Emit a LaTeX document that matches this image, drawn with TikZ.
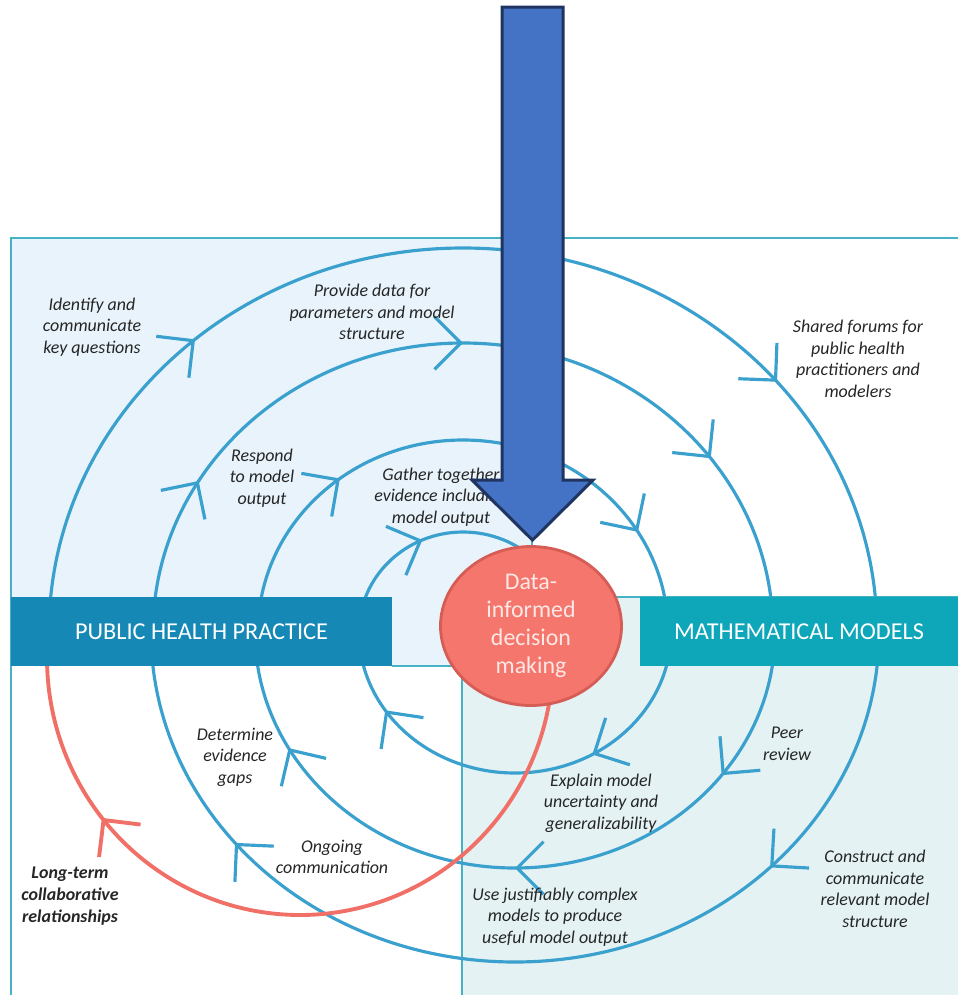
\documentclass[tikz,border=0pt]{standalone}
\usepackage{fontspec}
\setmainfont{Carlito}
\usepackage{tikz}
\usetikzlibrary{arrows.meta,shapes.geometric,decorations.markings}

\definecolor{loopblue}{RGB}{58,160,206}
\definecolor{loopred}{RGB}{240,112,104}
\definecolor{phpblue}{RGB}{22,136,181}
\definecolor{mmteal}{RGB}{14,166,185}
\definecolor{phpback}{RGB}{232,243,251}
\definecolor{mmback}{RGB}{228,242,244}
\definecolor{frameteal}{RGB}{70,178,196}
\definecolor{decfill}{RGB}{244,118,108}
\definecolor{decline}{RGB}{214,92,86}
\definecolor{dectext}{RGB}{253,232,230}
\definecolor{bigblue}{RGB}{68,114,196}
\definecolor{bignavy}{RGB}{31,52,96}
\definecolor{labelgray}{RGB}{38,38,38}

\tikzset{
  looparc/.style={draw=loopblue, line width=0.9pt},
  backarc/.style={draw=loopred, line width=1.1pt},
  flowmark/.style={postaction={decorate,
      decoration={markings, mark=at position #1 with {\arrow{>}}}}},
  notetext/.style={font=\itshape\fontsize{5.1}{6.15}\selectfont,
      text=labelgray, align=center, inner sep=0pt},
  sidebar/.style={text=white, inner sep=0pt, minimum height=6.9mm,
      font=\fontsize{6.9}{8}\selectfont},
  decision/.style={ellipse, draw=decline, line width=0.8pt, fill=decfill,
      text=dectext, align=center, inner sep=0pt,
      minimum width=18.1mm, minimum height=15.9mm,
      font=\fontsize{6.8}{7.9}\selectfont},
  framerule/.style={draw=frameteal, line width=0.35pt}
}

\begin{document}
\begin{tikzpicture}[x=0.1mm, y=-0.1mm, >={Straight Barb[length=7.5pt,width=15pt]}]
  \useasboundingbox (0,0) rectangle (958,995);

  % the two halves of the plane
  \fill[phpback] (11,238) rectangle (532,666);
  \fill[mmback] (462,597) rectangle (958,995);
  \draw[framerule] (958,238) -- (11,238) -- (11,995);
  \draw[framerule] (532,238) -- (532,666) -- (392,666);
  \draw[framerule] (958,597) -- (462,597) -- (462,995);

  % upper half turns, centre (463,632)
  \draw[looparc, flowmark=0.27, flowmark=0.78]
    (463,632) ++(180:414 and 384) arc[start angle=180, end angle=360, x radius=414, y radius=384];
  \draw[looparc, flowmark=0.17, flowmark=0.5, flowmark=0.8]
    (463,632) ++(180:310 and 289) arc[start angle=180, end angle=360, x radius=310, y radius=289];
  \draw[looparc, flowmark=0.29, flowmark=0.83]
    (463,632) ++(180:205 and 192) arc[start angle=180, end angle=360, x radius=205, y radius=192];
  \draw[looparc, flowmark=0.37]
    (463,632) ++(180:104 and 100) arc[start angle=180, end angle=360, x radius=104, y radius=100];

  % lower half turns, centre (515,632)
  \draw[looparc, flowmark=0.245, flowmark=0.787]
    (515,632) ++(0:364 and 330) arc[start angle=0, end angle=180, x radius=364, y radius=330];
  \draw[looparc, flowmark=0.2, flowmark=0.5, flowmark=0.843]
    (515,632) ++(0:260 and 236) arc[start angle=0, end angle=180, x radius=260, y radius=236];
  \draw[looparc, flowmark=0.328, flowmark=0.82]
    (515,632) ++(0:156 and 141) arc[start angle=0, end angle=180, x radius=156, y radius=141];

  % way back out to the start
  \draw[backarc, flowmark=0.77]
    (300,658) ++(-5:253 and 257) arc[start angle=-5, end angle=185, x radius=253, y radius=257];

  \node[notetext] (identify) at (92,327) {Identify and\\communicate\\key questions};
  \node[notetext] (provide) at (372,312) {Provide data for\\parameters and model\\structure};
  \node[notetext] (shared) at (858,359) {Shared forums for\\public health\\practitioners and\\modelers};
  \node[notetext] (respond) at (262,478) {Respond\\to model\\output};
  \node[notetext] (gather) at (441,497) {Gather together\\evidence including\\model output};
  \node[notetext] (determine) at (235,757) {Determine\\evidence\\gaps};
  \node[notetext] (ongoing) at (332,857) {Ongoing\\communication};
  \node[notetext, font=\bfseries\itshape\fontsize{5.1}{6.15}\selectfont] (longterm) at (70,896) {Long-term\\collaborative\\relationships};
  \node[notetext] (peer) at (787,744) {Peer\\review};
  \node[notetext] (explain) at (601,803) {Explain model\\uncertainty and\\generalizability};
  \node[notetext] (usemodels) at (555,917) {Use justifiably complex\\models to produce\\useful model output};
  \node[notetext] (construct) at (875,889) {Construct and\\communicate\\relevant model\\structure};

  \node[sidebar, fill=phpblue, minimum width=38.1mm] (php) at (201.5,631.5) {PUBLIC HEALTH PRACTICE};
  \node[sidebar, fill=mmteal, minimum width=31.8mm] (mm) at (799,631.5) {MATHEMATICAL MODELS};

  \node[decision] (decision) at (531,626) {Data-\\informed\\decision\\making};

  % big arrow coming down onto the decision
  \draw[fill=bigblue, draw=bignavy, line width=0.85pt, line join=miter, shift={(decision.north)}]
    (-29,-538) -- (32,-538) -- (32,-65) -- (62,-65) -- (1.5,-5) -- (-59,-65) -- (-29,-65) -- cycle;
\end{tikzpicture}
\end{document}
